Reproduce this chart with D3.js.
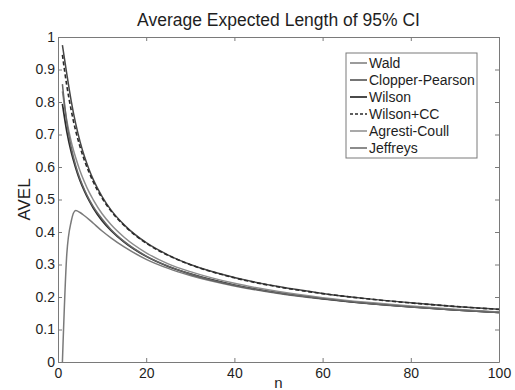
<!DOCTYPE html>
<html>
<head>
<meta charset="utf-8">
<script src="https://cdn.jsdelivr.net/npm/d3@7"></script>
<style>
  html, body { margin: 0; padding: 0; background: #fff; }
  svg { display: block; }
</style>
</head>
<body>
<div id="chart"></div>
<script>
const nValues = [1, 2, 3, 4, 5, 6, 7, 8, 10, 12, 15, 20, 25, 30, 40, 50, 60, 70, 80, 90, 100];

// average expected length per method
const wald          = [0, 0.333, 0.433, 0.466, 0.460, 0.450, 0.439, 0.427, 0.403, 0.382, 0.354, 0.316, 0.288, 0.266, 0.234, 0.211, 0.194, 0.180, 0.169, 0.160, 0.152];
const clopperPearson = [0.975, 0.886, 0.803, 0.734, 0.678, 0.632, 0.594, 0.561, 0.509, 0.468, 0.422, 0.367, 0.329, 0.300, 0.260, 0.232, 0.211, 0.195, 0.182, 0.171, 0.162];
const wilson        = [0.794, 0.709, 0.646, 0.598, 0.558, 0.526, 0.498, 0.474, 0.435, 0.405, 0.369, 0.325, 0.294, 0.271, 0.237, 0.213, 0.195, 0.181, 0.170, 0.1605, 0.1524];
const wilsonCC      = [0.945, 0.850, 0.774, 0.712, 0.662, 0.620, 0.585, 0.554, 0.504, 0.465, 0.420, 0.3655, 0.328, 0.2995, 0.259, 0.231, 0.2105, 0.1945, 0.1817, 0.171, 0.1618];
const agrestiCoull  = [0.833, 0.743, 0.678, 0.629, 0.588, 0.554, 0.524, 0.499, 0.456, 0.423, 0.384, 0.336, 0.302, 0.278, 0.242, 0.217, 0.198, 0.1835, 0.172, 0.1625, 0.154];
const jeffreys      = [0.855, 0.735, 0.660, 0.605, 0.563, 0.530, 0.502, 0.478, 0.440, 0.408, 0.371, 0.326, 0.295, 0.271, 0.236, 0.2125, 0.195, 0.181, 0.1696, 0.1602, 0.1521];

const seriesNames = ["Wald", "Clopper-Pearson", "Wilson", "Wilson+CC", "Agresti-Coull", "Jeffreys"];
const seriesValues = [wald, clopperPearson, wilson, wilsonCC, agrestiCoull, jeffreys];

const xTicks = [0, 20, 40, 60, 80, 100];
const xTickLabels = ["0", "20", "40", "60", "80", "100"];
const yTicks = [0, 0.1, 0.2, 0.3, 0.4, 0.5, 0.6, 0.7, 0.8, 0.9, 1];
const yTickLabels = ["0", "0.1", "0.2", "0.3", "0.4", "0.5", "0.6", "0.7", "0.8", "0.9", "1"];

const titleText = "Average Expected Length of 95% CI";
const xLabel = "n";
const yLabel = "AVEL";

(function () {
  const W = 515, H = 390;
  const FONT = "'Liberation Sans', Arial, sans-serif";
  const AXIS = "#7a7a7a";
  const TEXT = "#1e1e1e";

  // line look per series (matlab-ish grays)
  const styles = [
    { color: "#7a7a7a", width: 1.5, dash: null },
    { color: "#474747", width: 1.5, dash: null },
    { color: "#2a2a2a", width: 1.7, dash: null },
    { color: "#2a2a2a", width: 1.6, dash: "4,2.5" },
    { color: "#8c8c8c", width: 1.5, dash: null },
    { color: "#666666", width: 1.5, dash: null }
  ];

  const plot = { left: 58, right: 499, top: 37, bottom: 362 };

  const svg = d3.select("#chart").append("svg")
    .attr("width", W).attr("height", H)
    .style("font-family", FONT);

  svg.append("rect").attr("width", W).attr("height", H).attr("fill", "#fff");

  const x = d3.scaleLinear().domain([0, 100]).range([plot.left, plot.right]);
  const y = d3.scaleLinear().domain([0, 1]).range([plot.bottom, plot.top]);

  // curves
  const line = d3.line()
    .x(d => x(d[0]))
    .y(d => y(d[1]))
    .curve(d3.curveMonotoneX);

  seriesValues.forEach((vals, i) => {
    const pts = nValues.map((n, j) => [n, vals[j]]);
    const st = styles[i];
    svg.append("path")
      .attr("d", line(pts))
      .attr("fill", "none")
      .attr("stroke", st.color)
      .attr("stroke-width", st.width)
      .attr("stroke-dasharray", st.dash)
      .attr("stroke-linejoin", "round");
  });

  // axes — ticks point inward like matlab
  function styleAxis(g) {
    g.selectAll(".domain").attr("stroke", AXIS).attr("stroke-width", 1);
    g.selectAll(".tick line").attr("stroke", AXIS).attr("stroke-width", 1);
    g.selectAll(".tick text").attr("fill", TEXT).attr("font-size", "14px").attr("font-family", FONT);
  }

  const xAxis = d3.axisBottom(x).tickValues(xTicks)
    .tickFormat((d, i) => xTickLabels[i]).tickSizeInner(-4).tickSizeOuter(0).tickPadding(6);
  svg.append("g").attr("transform", `translate(0,${plot.bottom})`).call(xAxis).call(styleAxis);

  const xAxisTop = d3.axisTop(x).tickValues(xTicks).tickFormat("").tickSizeInner(-4).tickSizeOuter(0);
  svg.append("g").attr("transform", `translate(0,${plot.top})`).call(xAxisTop).call(styleAxis);

  const yAxis = d3.axisLeft(y).tickValues(yTicks)
    .tickFormat((d, i) => yTickLabels[i]).tickSizeInner(-4).tickSizeOuter(0).tickPadding(3);
  svg.append("g").attr("transform", `translate(${plot.left},0)`).call(yAxis).call(styleAxis);

  const yAxisRight = d3.axisRight(y).tickValues(yTicks).tickFormat("").tickSizeInner(-4).tickSizeOuter(0);
  svg.append("g").attr("transform", `translate(${plot.right},0)`).call(yAxisRight).call(styleAxis);

  // title and labels
  svg.append("text")
    .attr("x", (plot.left + plot.right) / 2).attr("y", 26)
    .attr("text-anchor", "middle").attr("fill", TEXT)
    .attr("font-size", "17.5px").text(titleText);

  svg.append("text")
    .attr("x", (plot.left + plot.right) / 2).attr("y", 388)
    .attr("text-anchor", "middle").attr("fill", TEXT)
    .attr("font-size", "15px").text(xLabel);

  svg.append("text")
    .attr("transform", `translate(30,${(plot.top + plot.bottom) / 2}) rotate(-90)`)
    .attr("text-anchor", "middle").attr("fill", TEXT)
    .attr("font-size", "17px").text(yLabel);

  // legend box
  const lg = { x: 346, y: 53, w: 131, h: 105, row: 17 };
  const legend = svg.append("g").attr("transform", `translate(${lg.x},${lg.y})`);
  legend.append("rect")
    .attr("width", lg.w).attr("height", lg.h)
    .attr("fill", "#fff").attr("stroke", AXIS).attr("stroke-width", 1);

  seriesNames.forEach((name, i) => {
    const cy = 10 + i * lg.row;
    const st = styles[i];
    legend.append("line")
      .attr("x1", 4).attr("x2", 21).attr("y1", cy).attr("y2", cy)
      .attr("stroke", st.color).attr("stroke-width", st.width)
      .attr("stroke-dasharray", st.dash ? "3,2" : null);
    legend.append("text")
      .attr("x", 23).attr("y", cy + 5)
      .attr("fill", TEXT).attr("font-size", "14px").text(name);
  });
})();
</script>
</body>
</html>
